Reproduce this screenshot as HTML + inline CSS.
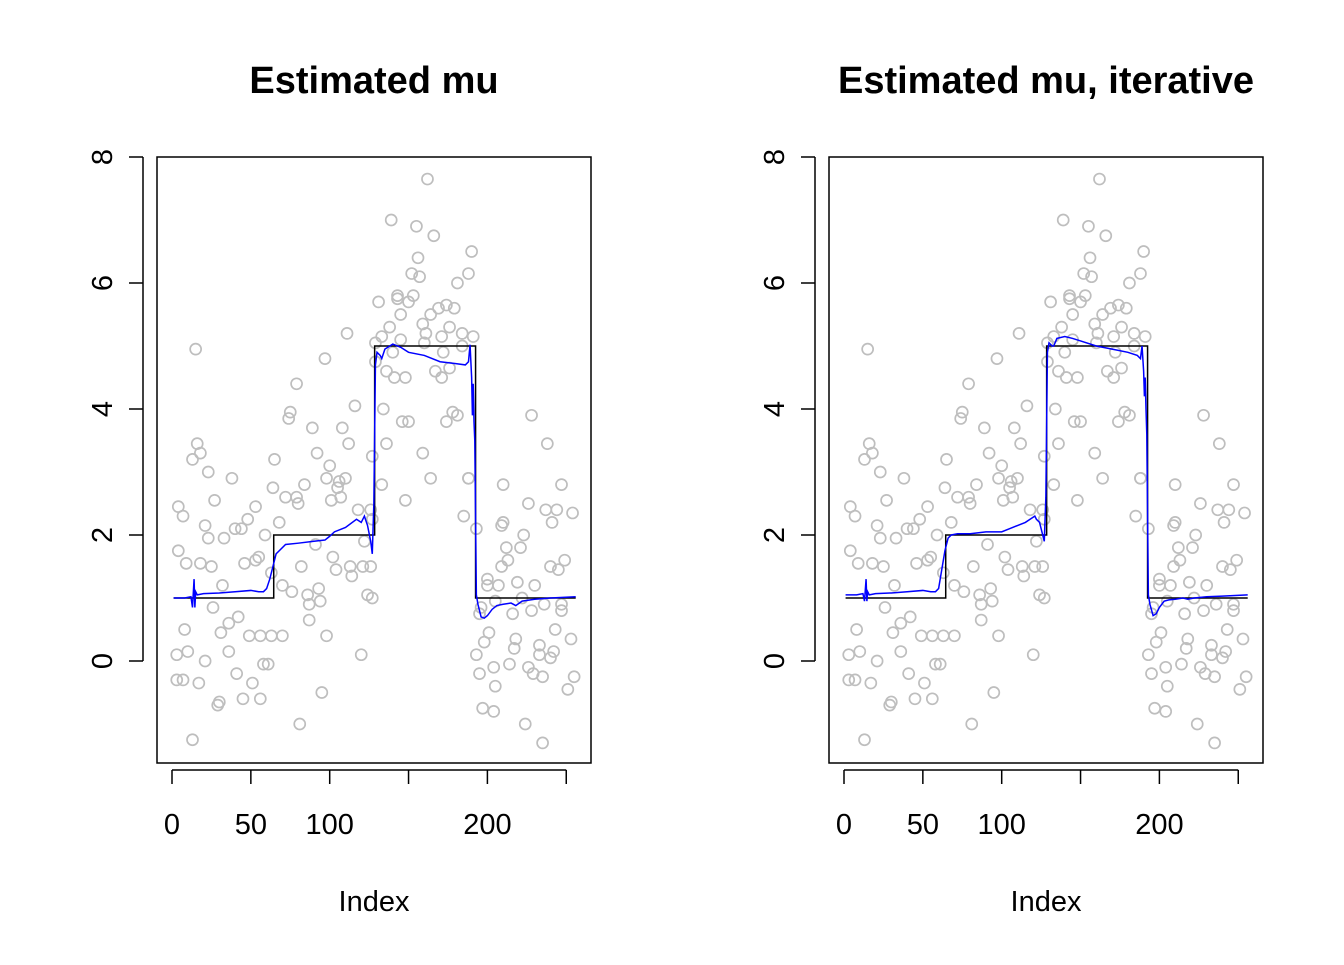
<!DOCTYPE html>
<html><head><meta charset="utf-8"><style>
body{margin:0;background:#fff}
svg text{font-family:"Liberation Sans",Arial,sans-serif}
</style></head><body>
<svg id="chart" width="1344" height="960" xmlns="http://www.w3.org/2000/svg"></svg>
<script>
const pointIdx=[3,3,4,4,7,7,8,9,10,13,13,15,16,17,18,18,21,21,23,23,25,26,27,29,30,31,32,33,36,36,38,40,41,42,44,45,46,48,49,51,53,53,55,56,56,58,59,61,63,63,64,
65,68,70,70,72,74,75,76,79,79,80,81,82,84,86,87,87,89,91,92,93,94,95,97,98,98,100,101,102,104,105,106,107,108,110,111,112,113,114,116,118,120,121,122,124,126,127,127,
162,139,155,166,190,156,152,157,188,181,131,143,153,150,143,145,169,174,179,164,159,138,176,184,191,161,133,129,145,160,171,140,172,184,129,136,141,148,167,171,176,134,146,150,174,178,181,136,127,159,164,133,188,148,126,185,
228,238,188,210,247,226,237,244,254,241,209,210,193,223,212,221,213,249,240,245,209,200,219,200,207,230,222,205,236,247,196,228,216,195,247,201,243,218,217,233,198,253,242,193,233,240,214,204,226,229,235,195,255,205,251,197,204,224,235];
const pointVal=[0.1,-0.3,2.45,1.75,2.3,-0.3,0.5,1.55,0.15,-1.25,3.2,4.95,3.45,-0.35,3.3,1.55,2.15,0,3.0,1.95,1.5,0.85,2.55,-0.7,-0.65,0.45,1.2,1.95,0.15,0.6,2.9,2.1,-0.2,0.7,2.1,-0.6,1.55,2.25,0.4,-0.35,1.6,2.45,1.65,0.4,-0.6,-0.05,2.0,-0.05,0.4,1.4,2.75,
3.2,2.2,0.4,1.2,2.6,3.85,3.95,1.1,2.6,4.4,2.5,-1.0,1.5,2.8,1.05,0.9,0.65,3.7,1.85,3.3,1.15,0.95,-0.5,4.8,0.4,2.9,3.1,2.55,1.65,1.45,2.75,2.85,2.6,3.7,2.9,5.2,3.45,1.5,1.35,4.05,2.4,0.1,1.5,1.9,1.05,1.5,1.0,2.25,
7.65,7.0,6.9,6.75,6.5,6.4,6.15,6.1,6.15,6.0,5.7,5.8,5.8,5.7,5.75,5.5,5.6,5.65,5.6,5.5,5.35,5.3,5.3,5.2,5.15,5.2,5.15,5.05,5.1,5.05,5.15,4.9,4.9,5.0,4.75,4.6,4.5,4.5,4.6,4.5,4.65,4.0,3.8,3.8,3.8,3.95,3.9,3.45,3.25,3.3,2.9,2.8,2.9,2.55,2.4,2.3,
3.9,3.45,2.9,2.8,2.8,2.5,2.4,2.4,2.35,2.2,2.15,2.2,2.1,2.0,1.8,1.8,1.6,1.6,1.5,1.45,1.5,1.3,1.25,1.2,1.2,1.2,1.0,0.95,0.9,0.9,0.85,0.8,0.75,0.75,0.8,0.45,0.5,0.35,0.2,0.25,0.3,0.35,0.15,0.1,0.1,0.05,-0.05,-0.1,-0.1,-0.2,-0.25,-0.2,-0.25,-0.4,-0.45,-0.75,-0.8,-1.0,-1.3];
const stepIdx=[1,64.5,64.5,128.5,128.5,192.5,192.5,256];
const stepVal=[1,1,2,2,5,5,1,1];
const muIdx=[1,8,12,13,14,14.5,15,16,20,30,40,50,55,58,60,62,64,66,68,72,80,90,97,100,103,110,117,120,122,124,126,127,128,129,130,132,133,135,140,145,150,160,170,180,186,188,189,190,190.5,191,191.5,192,193,194,196,198,200,203,206,210,215,218,222,230,240,256];
const muVal=[1.0,1.0,1.02,0.85,1.3,0.85,1.1,1.05,1.07,1.08,1.1,1.12,1.1,1.1,1.15,1.3,1.5,1.7,1.75,1.85,1.87,1.9,1.92,1.98,2.05,2.12,2.25,2.2,2.3,2.15,1.9,1.7,2.5,4.7,4.9,4.85,4.8,4.95,5.03,4.98,4.9,4.85,4.75,4.72,4.7,4.75,5.02,4.5,3.9,4.4,3.8,3.5,1.05,0.9,0.7,0.68,0.72,0.82,0.88,0.9,0.92,0.88,0.95,0.98,1.0,1.02];
const mu2Idx=[1,8,12,13,14,14.5,15,16,20,30,40,50,55,58,60,62,64,66,68,72,80,90,100,105,110,115,118,121,122,124,126,127,128,129,130,132,133,135,140,145,150,160,170,180,186,188,189,190,190.5,191,191.5,192,193,194,196,198,200,203,206,210,215,218,222,230,240,256];
const mu2Val=[1.05,1.05,1.07,0.95,1.3,0.95,1.1,1.05,1.07,1.08,1.1,1.12,1.1,1.1,1.15,1.45,1.75,1.95,2.0,2.02,2.02,2.05,2.05,2.1,2.15,2.2,2.25,2.3,2.25,2.2,2.0,1.9,2.6,4.9,5.05,5.0,5.0,5.12,5.15,5.12,5.08,5.0,4.95,4.9,4.85,4.8,5.0,4.6,4.2,4.5,4.0,3.6,1.05,0.9,0.72,0.75,0.85,0.95,0.97,0.98,1.0,0.98,1.0,1.02,1.03,1.05];
const xTicks=[0,50,100,150,200,250];
const xTickLabels=["0","50","100","","200",""];
const yTicks=[0,2,4,6,8];
const titles=["Estimated mu","Estimated mu, iterative"];

const NS="http://www.w3.org/2000/svg";
const svg=document.getElementById('chart');
function mk(tag,attrs,parent){const e=document.createElementNS(NS,tag);for(const k in attrs)e.setAttribute(k,attrs[k]);(parent||svg).appendChild(e);return e;}

[0,1].forEach(p=>{
  const off=p*672;
  const g=mk('g',{});
  
  
  const X=i=>172+off+i*1.577;
  const Y=v=>661-v*63;
  const box=mk('rect',{x:157+off,y:157,width:434,height:606,fill:'none',stroke:'#000','stroke-width':1.5},g);
  
  
  const t=mk('text',{x:374+off,y:93,'text-anchor':'middle','font-size':38,'font-weight':'bold'},g);
  t.textContent=titles[p];
  
  
  const xa=mk('g',{},g);
  
  
  mk('line',{x1:X(xTicks[0]),x2:X(xTicks[xTicks.length-1]),y1:770,y2:770,stroke:'#000','stroke-width':1.5},xa);
  xTicks.forEach((v,i)=>{
    mk('line',{x1:X(v),x2:X(v),y1:770,y2:784,stroke:'#000','stroke-width':1.5},xa);
    if(xTickLabels[i]){const l=mk('text',{x:X(v),y:834,'text-anchor':'middle','font-size':29},xa);l.textContent=xTickLabels[i];
      
      }
  });
  const xl=mk('text',{x:374+off,y:911,'text-anchor':'middle','font-size':29},g);xl.textContent='Index';
  
  
  const ya=mk('g',{},g);
  
  
  mk('line',{x1:143+off,x2:143+off,y1:Y(0),y2:Y(8),stroke:'#000','stroke-width':1.5},ya);
  yTicks.forEach(v=>{
    mk('line',{x1:129+off,x2:143+off,y1:Y(v),y2:Y(v),stroke:'#000','stroke-width':1.5},ya);
    const l=mk('text',{x:112+off,y:Y(v),'text-anchor':'middle','font-size':29,transform:`rotate(-90 ${112+off} ${Y(v)})`},ya);
    l.textContent=String(v);
    
    
  });
  const pg=mk('g',{},g);
  
  
  pointIdx.forEach((ix,k)=>{
    const c=mk('circle',{cx:X(ix),cy:Y(pointVal[k]),r:5.5,fill:'none',stroke:'#bebebe','stroke-width':1.7},pg);
    
    
  });
  const sp=mk('polyline',{points:stepIdx.map((ix,k)=>X(ix)+','+Y(stepVal[k])).join(' '),fill:'none',stroke:'#000','stroke-width':1.5},g);
  
  
  const mi=p?mu2Idx:muIdx, mv=p?mu2Val:muVal;
  const bl=mk('polyline',{points:mi.map((ix,k)=>X(ix)+','+Y(mv[k])).join(' '),fill:'none',stroke:'#0000ff','stroke-width':1.5},g);
  
  
});
</script>
</body></html>
